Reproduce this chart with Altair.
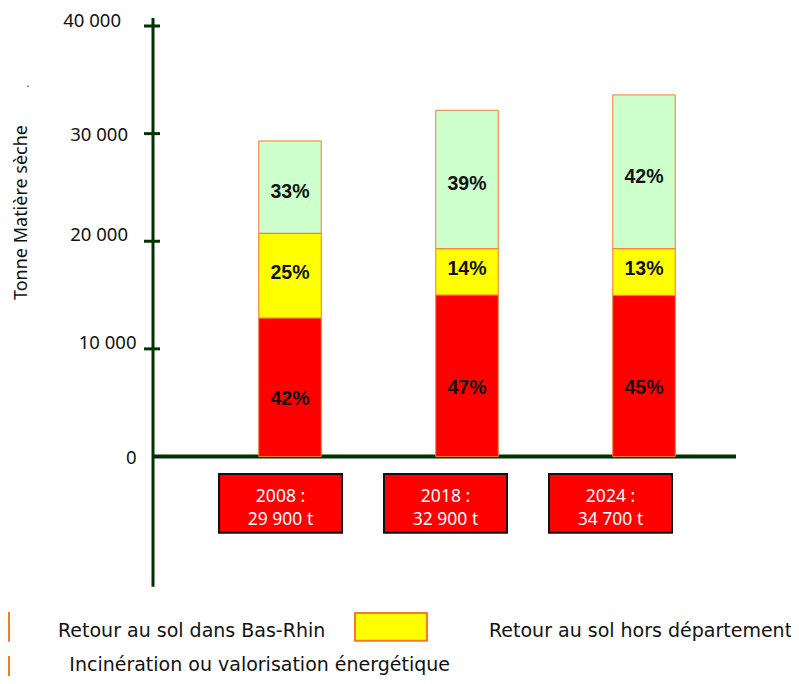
import altair as alt
import pandas as pd

# ---------------- data ----------------
years = ["2008", "2018", "2024"]
total_labels = ["29 900 t", "32 900 t", "34 700 t"]
series = [
    "Incinération ou valorisation énergétique",
    "Retour au sol hors département",
    "Retour au sol dans Bas-Rhin",
]
incineration = [12870, 15010, 14980]
hors_departement = [7870, 4300, 4330]
bas_rhin = [8580, 12860, 14290]
pct_incineration = ["42%", "47%", "45%"]
pct_hors_departement = ["25%", "14%", "13%"]
pct_bas_rhin = ["33%", "39%", "42%"]
y_ticks = [0, 10000, 20000, 30000, 40000]
y_axis_title = "Tonne Matière sèche"

colors = ["#FF0000", "#FFFF00", "#CCFFCC"]
edge = "#F47A2C"
axis_green = "#003300"

rows = []
for k, (name, vals, pcts) in enumerate(
    zip(series, [incineration, hors_departement, bas_rhin],
        [pct_incineration, pct_hors_departement, pct_bas_rhin])):
    for yr, v, p in zip(years, vals, pcts):
        rows.append({"year": yr, "series": name, "value": v, "pct": p, "order": k})
df = pd.DataFrame(rows)

box_df = pd.DataFrame({"year": years,
                       "label": [f"{y} :\n{t}" for y, t in zip(years, total_labels)]})
tick_df = pd.DataFrame({"tick": y_ticks})
one = pd.DataFrame({"k": [0]})

# ---------------- scales ----------------
y_scale = alt.Scale(domain=[0, 40000], range=[448.5, 18], nice=False)
bar_x = alt.Scale(type="band", domain=years, range=[250.75, 667.25],
                  paddingInner=0.647, paddingOuter=0)
box_x = alt.Scale(type="band", domain=years, range=[211, 664],
                  paddingInner=0.2545, paddingOuter=0)

# ---------------- layers ----------------
baseline = alt.Chart(tick_df).transform_filter(alt.datum.tick == 0).mark_rule(
    color=axis_green, strokeWidth=4).encode(
    y=alt.Y("tick:Q", scale=y_scale, axis=None),
    x=alt.value(145), x2=alt.value(728))

bars = alt.Chart(df).mark_bar(stroke=edge, strokeWidth=1).encode(
    x=alt.X("year:N", scale=bar_x, axis=None),
    y=alt.Y("value:Q", stack="zero", scale=y_scale, axis=None),
    color=alt.Color("series:N", scale=alt.Scale(domain=series, range=colors), legend=None),
    order=alt.Order("order:Q", sort="ascending"),
)

label_layers = []
for name, dy in zip(series, [12, -3, 5]):
    label_layers.append(
        alt.Chart(df)
        .transform_stack(stack="value", groupby=["year"], as_=["v0", "v1"],
                         sort=[alt.SortField("order", "ascending")])
        .transform_calculate(mid="(datum.v0 + datum.v1) / 2")
        .transform_filter(alt.datum.series == name)
        .mark_text(font="Liberation Sans", fontWeight="bold", fontSize=19.5,
                   color="#111111", baseline="middle", dy=dy)
        .encode(x=alt.X("year:N", scale=bar_x, axis=None),
                y=alt.Y("mid:Q", scale=y_scale, axis=None),
                text="pct:N")
    )

vaxis = alt.Chart(one).mark_rule(color=axis_green, strokeWidth=3).encode(
    x=alt.value(145), y=alt.value(10), y2=alt.value(578.7))

ticks = alt.Chart(tick_df).transform_filter(alt.datum.tick > 0).mark_rule(
    color=axis_green, strokeWidth=3).encode(
    y=alt.Y("tick:Q", scale=y_scale, axis=None),
    x=alt.value(136), x2=alt.value(152))

# tick labels: the original places each one slightly differently
label_style = {0: (128.7, 1.5), 10000: (128.5, -5.5), 20000: (120, -6),
               30000: (120, 1.5), 40000: (113, -5.5)}
tick_label_layers = []
for t in y_ticks:
    xr, dy = label_style[t]
    tick_label_layers.append(
        alt.Chart(tick_df).transform_filter(alt.datum.tick == t).transform_calculate(
            lab="replace(format(datum.tick, ','), ',', ' ')"
        ).mark_text(font="Noto Sans", fontSize=18.5, color="#111111", align="right",
                    baseline="middle", dy=dy).encode(
            y=alt.Y("tick:Q", scale=y_scale, axis=None),
            x=alt.value(xr), text="lab:N")
    )

y_title = alt.Chart(pd.DataFrame({"t": [y_axis_title]})).mark_text(
    font="Noto Sans", fontSize=18, color="#111111", angle=270,
    align="center", baseline="middle").encode(
    x=alt.value(14), y=alt.value(204.5), text="t:N")

boxes = alt.Chart(box_df).mark_rect(fill="#FF0000", stroke="#111111", strokeWidth=2).encode(
    x=alt.X("year:N", scale=box_x, axis=None),
    y=alt.value(466), y2=alt.value(524.7))

box_text = alt.Chart(box_df).mark_text(
    color="white", font="Noto Sans", fontSize=17.5, lineBreak="\n", lineHeight=23,
    baseline="middle").encode(
    x=alt.X("year:N", scale=box_x, axis=None),
    y=alt.value(488.5), text="label:N")

dot = alt.Chart(one).mark_text(text=".", fontSize=12, color="#111111",
                               baseline="alphabetic").encode(
    x=alt.value(20), y=alt.value(78.5))

# legend (drawn by hand to follow the original layout)
def swatch(color, x0, x1, y0, y1):
    return alt.Chart(one).mark_rect(fill=color, stroke=edge, strokeWidth=2).encode(
        x=alt.value(x0), x2=alt.value(x1), y=alt.value(y0), y2=alt.value(y1))

def leg_text(name, x, y):
    return alt.Chart(pd.DataFrame({"name": [name]})).mark_text(
        font="DejaVu Sans", fontSize=19, color="#111111", align="left",
        baseline="alphabetic").encode(x=alt.value(x), y=alt.value(y), text="name:N")

legend = [
    swatch(colors[2], -70, 1, 605, 632.7),
    swatch(colors[1], 347, 419, 605, 632.7),
    swatch(colors[0], -70, 1, 649, 677),
    leg_text(series[2], 50, 629.3),
    leg_text(series[1], 481, 629.3),
    leg_text(series[0], 61.3, 663),
]

chart = alt.layer(
    baseline, bars, *label_layers, vaxis, ticks, *tick_label_layers, y_title,
    boxes, box_text, dot, *legend
).resolve_scale(x="independent").properties(
    width=783, height=668,
    autosize=alt.AutoSizeParams(type="none"),
    padding=0,
).configure_view(stroke=None)

chart.save("out.html", embed_options={"renderer": "svg", "actions": False})
